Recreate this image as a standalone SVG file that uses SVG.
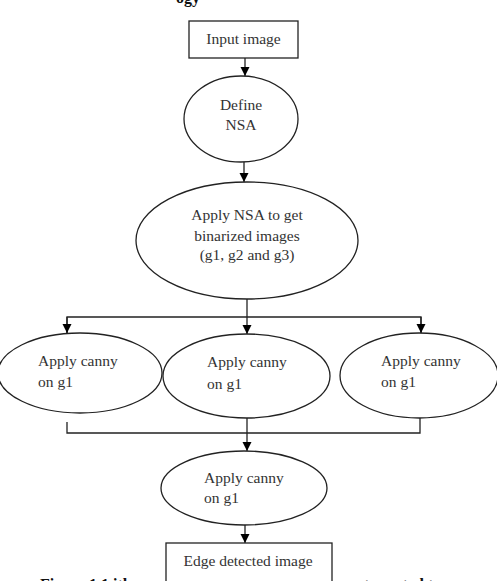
<svg xmlns="http://www.w3.org/2000/svg" width="497" height="581" viewBox="0 0 497 581">
<defs>
<marker id="ah" markerWidth="10" markerHeight="10" refX="9" refY="5" orient="auto" markerUnits="userSpaceOnUse">
<path d="M0,0.5 L9,5 L0,9.5 Z" fill="#000"/>
</marker>
<style>
.s{fill:#fff;stroke:#222;stroke-width:1.3}
.t{font-family:"Liberation Serif","Times New Roman",serif;font-size:15.5px;fill:#333}
.c{text-anchor:middle}
.l{fill:none;stroke:#222;stroke-width:1.3}
.b{font-family:"Liberation Serif","Times New Roman",serif;font-size:16px;font-weight:bold;fill:#111}
</style>
</defs>
<rect width="497" height="581" fill="#fff"/>
<text class="b" x="200" y="3" text-anchor="end">ogy</text>
<g id="connectors">
<line class="l" x1="245" y1="58" x2="245" y2="76" marker-end="url(#ah)"/>
<line class="l" x1="244" y1="162" x2="244" y2="182" marker-end="url(#ah)"/>
<polyline class="l" points="247,299 247,317"/>
<polyline class="l" points="67,333 67,317 421,317 421,333"/>
<line class="l" x1="67" y1="317" x2="67" y2="333" marker-end="url(#ah)"/>
<line class="l" x1="247" y1="317" x2="247" y2="334" marker-end="url(#ah)"/>
<line class="l" x1="421" y1="317" x2="421" y2="333" marker-end="url(#ah)"/>
<polyline class="l" points="67,422 67,433 420,433 420,418"/>
<line class="l" x1="247" y1="418" x2="247" y2="451" marker-end="url(#ah)"/>
<line class="l" x1="245" y1="525" x2="245" y2="543" marker-end="url(#ah)"/>
</g>
<g id="input">
<rect class="s" x="189" y="21" width="109" height="37"/>
<text class="t c" x="243.5" y="44">Input image</text>
</g>
<g id="define">
<ellipse class="s" cx="241" cy="119" rx="57" ry="43"/>
<text class="t c" x="241" y="110">Define</text>
<text class="t c" x="241" y="130">NSA</text>
</g>
<g id="apply-nsa">
<ellipse class="s" cx="247" cy="240.5" rx="111" ry="58.5"/>
<text class="t c" x="247" y="220">Apply NSA to get</text>
<text class="t c" x="247" y="241">binarized images</text>
<text class="t c" x="247" y="260">(g1, g2 and g3)</text>
</g>
<g id="canny-left">
<ellipse class="s" cx="80" cy="373" rx="82" ry="40"/>
<text class="t" x="38" y="366">Apply canny</text>
<text class="t" x="38" y="387">on g1</text>
</g>
<g id="canny-mid">
<ellipse class="s" cx="246.5" cy="376" rx="83.5" ry="42"/>
<text class="t" x="207" y="367">Apply canny</text>
<text class="t" x="207" y="389">on g1</text>
</g>
<g id="canny-right">
<ellipse class="s" cx="419" cy="375.5" rx="79" ry="42.5"/>
<text class="t" x="381" y="366">Apply canny</text>
<text class="t" x="381" y="387">on g1</text>
</g>
<g id="canny-merge">
<ellipse class="s" cx="244" cy="488" rx="83" ry="37"/>
<text class="t" x="204" y="483">Apply canny</text>
<text class="t" x="204" y="503">on g1</text>
</g>
<text class="b" x="40" y="590">Figure 1.1 ith</text>
<text class="b" x="355" y="590">nt     mented to</text>
<g id="edge">
<rect class="s" x="166" y="543" width="166" height="50"/>
<text class="t c" x="248" y="566">Edge detected image</text>
</g>
</svg>
